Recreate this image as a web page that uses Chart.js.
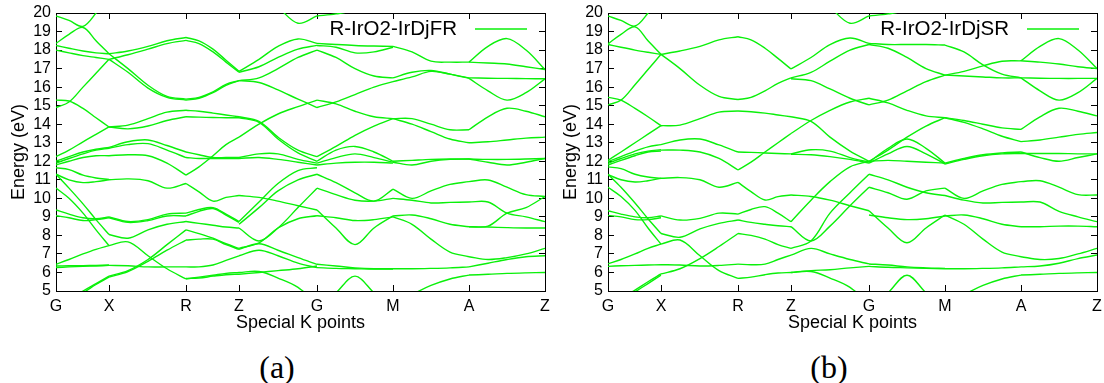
<!DOCTYPE html>
<html lang="en">
<head>
<meta charset="UTF-8">
<title>R-IrO2 band structures</title>
<script src="https://cdn.jsdelivr.net/npm/chart.js"></script>
<style>
  body { margin: 0; background: #fff; width: 1104px; height: 383px; overflow: hidden; position: relative; }
  canvas { position: absolute; top: 0; }
  #chartA { left: 0; }
  #chartB { left: 552px; }
  .caption {
    position: absolute; top: 348px; width: 80px; text-align: center;
    font-family: "Liberation Serif", "DejaVu Serif", serif; font-size: 32px; line-height: 38px; color: #000;
  }
</style>
</head>
<body>
<canvas id="chartA" width="552" height="345"></canvas>
<canvas id="chartB" width="552" height="345"></canvas>
<div class="caption" style="left:237px">(a)</div>
<div class="caption" style="left:789px">(b)</div>
<script>
// high symmetry points along the k path
const kTickPos = [0, 53, 130, 183, 261, 337, 413, 489];
const kTickLabels = ['G', 'X', 'R', 'Z', 'G', 'M', 'A', 'Z'];
// k samples for each segment G-X, X-R, R-Z, Z-G, G-M, M-A, A-Z
const segGrid = [
  [0, 13, 27, 40, 53], [53, 72, 92, 111, 130], [130, 143, 157, 170, 183],
  [183, 203, 222, 242, 261], [261, 280, 299, 318, 337], [337, 356, 375, 394, 413],
  [413, 432, 451, 470, 489]
];

// (a) full relativistic bands, energies in eV
const frGX = [
  [19.84,19.6,19.28,20.0,21], [18.36,18.85,19.22,18.5,17.8], [18.25,18.1,17.95,17.85,17.8],
  [18.0,17.85,17.7,17.6,17.5], [14.9,15.2,16.0,16.75,17.5], [15.3,15.25,14.85,14.35,13.85],
  [12.25,12.6,13.05,13.45,13.85], [12.0,12.25,12.5,12.65,12.75], [11.9,12.15,12.4,12.6,12.7],
  [11.8,12.0,12.2,12.3,12.3], [11.65,11.55,11.25,11.1,11.02], [11.3,11.0,10.85,10.9,11.0],
  [11.3,10.55,9.7,8.85,8.05], [10.55,10.0,9.2,8.3,7.45], [9.37,9.15,8.95,8.9,9.0],
  [9.06,8.95,8.8,8.85,8.95], [6.44,6.7,7.0,7.25,7.45], [6.35,6.36,6.37,6.38,6.4],
  [6.26,6.3,6.33,6.35,6.38], [4.3,4.6,5.0,5.4,5.8], [4.2,4.5,4.9,5.35,5.75]
];
const frXR = [
  [17.8,17.95,18.2,18.5,18.68], [17.5,17.75,18.05,18.35,18.52], [17.8,17.0,16.1,15.5,15.35],
  [17.5,16.8,15.95,15.45,15.3], [13.85,13.95,14.3,14.65,14.75], [13.85,13.75,13.9,14.2,14.4],
  [12.75,13.05,13.15,12.85,12.5], [12.7,12.9,12.95,12.6,12.2], [12.3,12.35,12.3,11.9,11.25],
  [11.0,11.05,10.95,10.55,10.8], [9.0,8.75,8.85,9.15,9.2], [8.95,8.7,8.8,9.05,9.05],
  [8.05,7.85,8.3,8.6,8.75], [7.45,7.65,6.9,6.2,5.65], [5.8,6.1,6.7,7.5,8.3],
  [5.75,6.05,6.6,7.2,7.75], [6.38,6.36,6.3,6.3,6.3]
];
const frRZ = [
  [18.68,18.5,18.05,17.45,16.85], [18.52,18.35,17.9,17.35,16.8], [15.35,15.45,15.75,16.15,16.35],
  [15.3,15.4,15.7,16.1,16.35], [14.75,14.7,14.6,14.5,14.4], [14.4,14.38,14.36,14.35,14.35],
  [12.5,12.35,12.2,12.2,12.2], [12.2,12.15,12.15,12.15,12.15], [11.25,11.7,12.3,12.9,13.3],
  [10.8,10.35,9.85,10.05,10.15], [9.2,9.4,9.5,9.15,8.75], [9.05,9.3,9.45,9.1,8.7],
  [8.75,8.65,8.55,8.45,8.4], [8.3,8.1,7.85,7.55,7.3], [7.75,7.8,7.8,7.5,7.25],
  [6.3,6.3,6.4,6.65,6.9], [5.65,5.75,5.85,5.95,6.0], [5.68,5.7,5.8,5.88,5.9]
];
const frZG = [
  [21,21,20.3,19.45,19.84], [16.85,17.5,18.2,18.6,18.36], [16.8,17.1,17.6,18.05,18.25],
  [16.35,16.5,17.0,17.6,18.0], [16.35,16.25,15.85,15.35,14.9], [14.4,14.15,13.3,12.6,12.25],
  [14.35,14.1,13.2,12.45,12.0], [13.3,14.0,14.55,14.95,15.3], [12.2,12.4,12.4,12.1,11.9],
  [12.15,12.2,12.1,11.95,11.8], [10.15,10.05,9.85,9.6,9.37], [8.75,9.8,10.8,11.5,11.65],
  [8.6,9.5,10.4,11.0,11.3], [8.4,7.7,8.4,9.5,10.55], [7.3,7.6,8.4,8.9,9.06],
  [7.25,7.55,7.2,6.8,6.44], [6.9,7.2,6.9,6.5,6.26], [6.0,6.05,5.7,5.2,4.3],
  [5.9,6.0,6.1,6.2,6.35]
];
const frGM = [
  [19.84,19.95,20.2,21,21], [18.36,18.3,18.25,18.22,18.2], [18.25,18.15,17.85,17.9,18.15],
  [18.0,17.6,17.0,16.6,16.5], [14.9,15.2,15.6,16.0,16.3], [15.3,15.1,14.7,14.4,14.3],
  [12.25,12.8,13.4,13.9,14.3], [12.0,12.6,12.8,12.5,12.0], [11.9,12.2,12.4,12.2,11.95],
  [11.8,11.9,11.95,11.95,11.9], [11.3,10.85,10.3,9.85,10.5], [10.55,10.2,9.9,9.85,10.0],
  [9.37,8.4,7.5,8.4,9.05], [9.06,8.95,8.8,8.85,9.0], [6.44,6.35,6.25,6.2,6.2],
  [6.26,6.22,6.2,6.18,6.18], [4.0,4.9,5.8,4.9,4.0]
];
const frMA = [
  [18.2,17.9,17.4,17.35,17.35], [16.5,16.8,16.9,16.7,16.47], [16.3,16.55,16.85,16.7,16.5],
  [14.3,14.3,14.0,13.7,13.7], [14.3,14.0,13.6,13.2,13.0], [12.0,12.05,12.1,12.12,12.12],
  [11.95,11.8,12.0,12.1,12.12], [10.5,10.0,10.4,10.75,10.9], [10.0,9.9,9.75,9.78,9.8],
  [9.05,9.1,8.9,8.6,8.47], [9.0,8.6,7.8,7.1,6.85], [6.2,6.2,6.22,6.25,6.3],
  [4.2,4.8,5.3,5.65,5.86]
];
const frAZ = [
  [17.35,17.3,17.25,17.1,16.95], [17.35,18.2,18.62,18.0,16.95], [16.47,15.8,15.3,15.7,16.45],
  [16.5,16.48,16.47,16.46,16.45], [13.7,14.4,14.86,14.7,14.4], [13.0,13.05,13.15,13.25,13.3],
  [12.12,12.1,12.1,12.12,12.15], [12.12,11.95,11.8,11.95,12.15], [10.9,10.99,10.6,10.2,10.1],
  [9.8,9.8,9.2,9.0,8.74], [8.47,8.5,9.2,9.5,10.1], [8.47,8.45,8.42,8.4,8.4],
  [6.85,6.7,6.8,7.0,7.3], [6.3,6.5,6.7,6.85,6.9], [5.86,5.9,5.95,5.98,6.0]
];

// (b) scalar relativistic bands, energies in eV
const srGX = [
  [19.84,19.6,19.3,20.0,21], [18.33,18.85,19.25,18.5,17.77], [18.3,18.15,18.0,17.88,17.77],
  [15.04,15.3,16.13,16.95,17.77], [15.45,15.3,14.85,14.4,13.92], [12.05,12.5,13.0,13.46,13.92],
  [11.98,12.25,12.55,12.78,12.9], [11.89,12.15,12.4,12.55,12.62], [11.8,12.05,12.3,12.5,12.55],
  [11.7,11.6,11.3,11.15,11.08], [11.28,11.0,10.88,10.95,11.08], [11.3,10.6,9.75,8.9,8.1],
  [10.6,10.1,9.35,8.4,7.53], [9.33,9.15,9.0,8.95,9.05], [9.08,9.0,8.85,8.85,8.95],
  [6.46,6.7,7.0,7.3,7.53], [6.33,6.36,6.38,6.4,6.42], [4.3,4.6,5.05,5.5,5.92],
  [4.1,4.45,4.95,5.4,5.85]
];
const srXR = [
  [17.77,17.95,18.2,18.55,18.72], [17.77,17.0,16.1,15.5,15.33], [13.92,13.95,14.3,14.65,14.71],
  [12.9,13.15,13.2,12.88,12.5], [12.6,12.6,12.5,12.15,11.53], [11.08,11.12,11.0,10.6,10.86],
  [9.05,8.83,8.92,9.2,9.15], [8.1,7.9,8.35,8.65,8.83], [7.53,7.75,6.9,6.1,5.68],
  [5.92,6.2,6.75,7.4,8.1], [6.42,6.4,6.35,6.38,6.45]
];
const srRZ = [
  [18.72,18.55,18.1,17.55,16.98], [15.33,15.45,15.8,16.2,16.5], [14.71,14.67,14.6,14.5,14.4],
  [12.5,12.48,12.45,12.42,12.4], [11.53,11.95,12.5,13.0,13.5], [10.86,10.36,9.91,10.09,10.18],
  [9.15,9.4,9.55,9.2,8.74], [8.83,8.7,8.6,8.52,8.47], [8.1,8.0,7.8,7.5,7.3],
  [6.45,6.42,6.45,6.7,6.94], [5.68,5.75,5.88,5.97,6.0]
];
const srZG = [
  [21,21,20.3,19.45,19.84], [16.98,17.6,18.3,18.65,18.36], [16.5,16.8,17.4,18.0,18.3],
  [16.45,16.35,15.9,15.4,15.04], [14.4,14.15,13.3,12.55,12.0], [13.5,14.2,14.75,15.2,15.4],
  [12.4,12.62,12.55,12.2,11.95], [12.38,12.35,12.25,12.1,11.9], [10.18,10.1,9.9,9.6,9.33],
  [8.74,9.9,10.9,11.7,12.0], [8.47,7.7,8.5,9.6,10.6], [7.3,7.7,9.2,10.3,11.3],
  [6.94,7.3,7.0,6.7,6.46], [6.0,6.1,6.15,6.25,6.33], [6.0,6.05,5.7,5.2,4.3]
];
const srGM = [
  [19.84,19.95,20.2,21,21], [18.36,18.3,18.3,18.3,18.27], [18.3,18.1,17.6,17.0,16.65],
  [15.04,15.3,15.8,16.3,16.65], [15.4,15.15,14.75,14.45,14.35], [12.0,12.6,13.3,13.9,14.35],
  [11.95,12.7,13.2,12.7,11.9], [11.9,12.4,12.8,12.4,11.85], [12.0,12.05,12.0,11.95,11.9],
  [11.3,11.0,10.6,10.3,10.15], [10.6,10.3,9.95,10.4,10.55], [9.33,8.4,7.6,8.4,9.1],
  [9.1,8.95,8.85,8.9,9.05], [6.46,6.4,6.3,6.25,6.22], [6.33,6.28,6.25,6.22,6.2],
  [4.0,4.9,5.85,4.9,4.0]
];
const srMA = [
  [18.27,17.9,17.2,16.7,16.5], [16.65,16.85,17.15,17.4,17.42], [16.65,16.6,16.55,16.5,16.5],
  [14.35,14.1,13.75,13.35,13.06], [14.35,14.2,14.0,13.8,13.72], [11.9,12.15,12.35,12.45,12.5],
  [11.85,12.1,12.3,12.4,12.42], [10.55,10.0,10.4,10.75,10.9], [10.15,9.9,9.75,9.78,9.8],
  [9.05,9.1,8.9,8.6,8.47], [9.1,8.6,7.8,7.1,6.85], [6.2,6.2,6.22,6.25,6.3],
  [4.2,4.8,5.3,5.65,5.86]
];
const srAZ = [
  [17.42,17.35,17.25,17.1,17.0], [17.42,18.2,18.62,18.0,17.0], [16.5,15.8,15.3,15.7,16.47],
  [16.5,16.48,16.47,16.47,16.47], [13.72,14.4,14.86,14.7,14.45], [13.06,13.15,13.3,13.45,13.55],
  [12.5,12.2,12.0,12.2,12.4], [12.42,12.42,12.42,12.4,12.4], [10.9,10.95,10.6,10.2,10.18],
  [9.8,9.8,9.3,9.0,8.74], [8.47,8.47,8.5,8.5,8.47], [6.85,6.7,6.75,7.0,7.3],
  [6.3,6.35,6.5,6.75,6.94], [5.86,5.9,5.95,5.98,6.0]
];

const green = 'rgb(10,240,10)';
Chart.defaults.font.family = '"Liberation Sans", Arial, sans-serif';
Chart.defaults.color = '#000';

function makeDatasets(segments, name) {
  const sets = [];
  segments.forEach((lines, s) => {
    lines.forEach(vals => {
      sets.push({
        label: sets.length === 0 ? name : '',
        data: segGrid[s].map((k, i) => ({x: k, y: vals[i]})),
        borderColor: green,
        borderWidth: 1.4,
        pointRadius: 0,
        tension: 0.35,
        fill: false,
        clip: 0
      });
    });
  });
  return sets;
}

// gnuplot style key: text then line sample, top right inside the frame
const insideLegend = {
  id: 'insideLegend',
  afterDatasetsDraw(chart) {
    const ds = chart.data.datasets[0];
    const {ctx, chartArea} = chart;
    const y = chartArea.top + 16;
    const lineEnd = chartArea.right - 18;
    const lineStart = lineEnd - 52;
    ctx.save();
    ctx.font = '20.5px "Liberation Sans", Arial, sans-serif';
    ctx.fillStyle = '#000';
    ctx.textAlign = 'right';
    ctx.textBaseline = 'middle';
    ctx.fillText(ds.label, lineStart - 18, y);
    ctx.strokeStyle = ds.borderColor;
    ctx.lineWidth = ds.borderWidth;
    ctx.beginPath();
    ctx.moveTo(lineStart, y);
    ctx.lineTo(lineEnd, y);
    ctx.stroke();
    ctx.restore();
  }
};

// fixed axis boxes so the frame lands where gnuplot put it
function fixBox(w, h) {
  return (s) => {
    if (w !== null) s.width = w;
    if (h !== null) s.height = h;
    s.paddingLeft = s.paddingRight = s.paddingTop = s.paddingBottom = 0;
  };
}

function bandOptions() {
  const tickFont = {size: 16};
  const grid = {drawOnChartArea: false, tickLength: -6, color: '#000'};
  const border = {color: '#000', width: 1};
  const kTicks = (scale) => { scale.ticks = kTickPos.map(v => ({value: v})); };
  return {
    responsive: false,
    animation: false,
    devicePixelRatio: 1,
    layout: {padding: {top: 13, right: 7, left: 0, bottom: 0}},
    plugins: {legend: {display: false}, tooltip: {enabled: false}},
    scales: {
      x: {
        type: 'linear', position: 'bottom', min: 0, max: 489,
        afterBuildTicks: kTicks,
        afterFit: fixBox(null, 54),
        ticks: {autoSkip: false, maxRotation: 0, padding: 12, font: tickFont,
                callback: (v) => kTickLabels[kTickPos.indexOf(v)]},
        grid: grid, border: border,
        title: {display: true, text: 'Special K points', font: {size: 18}, padding: {top: 0, bottom: 11}}
      },
      xTop: {
        type: 'linear', position: 'top', min: 0, max: 489,
        afterBuildTicks: kTicks,
        afterFit: fixBox(null, 0),
        ticks: {display: false},
        grid: grid, border: border
      },
      y: {
        type: 'linear', position: 'left', min: 5, max: 20,
        afterFit: fixBox(56, null),
        ticks: {stepSize: 1, autoSkip: false, padding: 11, font: tickFont},
        grid: grid, border: border,
        title: {display: true, text: 'Energy (eV)', font: {size: 18}, padding: {top: 8, bottom: 0}}
      },
      yRight: {
        type: 'linear', position: 'right', min: 5, max: 20,
        afterFit: fixBox(0, null),
        ticks: {stepSize: 1, display: false},
        grid: grid, border: border
      }
    }
  };
}

new Chart(document.getElementById('chartA'), {
  type: 'line',
  data: {datasets: makeDatasets([frGX, frXR, frRZ, frZG, frGM, frMA, frAZ], 'R-IrO2-IrDjFR')},
  options: bandOptions(),
  plugins: [insideLegend]
});

new Chart(document.getElementById('chartB'), {
  type: 'line',
  data: {datasets: makeDatasets([srGX, srXR, srRZ, srZG, srGM, srMA, srAZ], 'R-IrO2-IrDjSR')},
  options: bandOptions(),
  plugins: [insideLegend]
});
</script>
</body>
</html>
